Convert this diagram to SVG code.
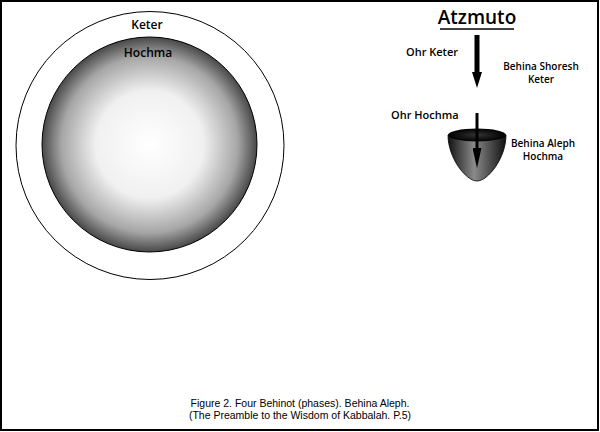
<svg xmlns="http://www.w3.org/2000/svg" width="600" height="432" viewBox="0 0 600 432">
<style>
text{font-family:"Open Sans","Liberation Sans",sans-serif;fill:#000}
.lbl{font-size:11px;font-weight:600}
.sm{font-size:10px;font-weight:600}
.cap{font-family:"Liberation Sans",sans-serif;font-size:10.5px}
</style>
<defs>
<radialGradient id="sphere" cx="0.5" cy="0.5" r="0.5">
<stop offset="0" stop-color="#ffffff"/>
<stop offset="0.5" stop-color="#f0f0f0"/>
<stop offset="0.82" stop-color="#a6a6a6"/>
<stop offset="1" stop-color="#484848"/>
</radialGradient>
<linearGradient id="bowl" x1="0" y1="0" x2="1" y2="0">
<stop offset="0" stop-color="#111"/>
<stop offset="0.45" stop-color="#8a8a8a"/>
<stop offset="1" stop-color="#111"/>
</linearGradient>
<radialGradient id="bowlTop" cx="0.5" cy="0.5" r="0.5">
<stop offset="0" stop-color="#333"/>
<stop offset="1" stop-color="#000"/>
</radialGradient>
<marker id="ah1" viewBox="0 0 16 10" refX="0" refY="5" markerWidth="16" markerHeight="10" markerUnits="userSpaceOnUse" orient="auto">
<path d="M0,0 L16,5 L0,10 Z" fill="#000"/>
</marker>
<marker id="ah2" viewBox="0 0 20 9" refX="0" refY="4.5" markerWidth="20" markerHeight="9" markerUnits="userSpaceOnUse" orient="auto">
<path d="M0,0 L20,4.5 L0,9 Z" fill="#000"/>
</marker>
</defs>
<rect x="1" y="1" width="597" height="429" fill="#fff" stroke="#000" stroke-width="2"/>
<g id="keter">
<circle cx="150" cy="145.5" r="134" fill="#fff" stroke="#000" stroke-width="1"/>
<text class="lbl" x="147" y="29" text-anchor="middle" style="font-size:12px">Keter</text>
</g>
<g id="hochma">
<circle cx="149.5" cy="144.5" r="107.5" fill="url(#sphere)" stroke="#000" stroke-width="1"/>
<text class="lbl" x="148" y="57" text-anchor="middle" style="font-size:12px">Hochma</text>
</g>
<g id="atzmuto">
<text x="477" y="24" text-anchor="middle" style="font-size:19px;font-weight:600">Atzmuto</text>
<line x1="440" y1="29" x2="514" y2="29" stroke="#000" stroke-width="1.5"/>
</g>
<g id="bowl-node">
<path d="M448,135 C448,158 466,181 477,181 C488,181 506,158 506,135 Z" fill="url(#bowl)" stroke="#000" stroke-width="0.8"/>
<ellipse cx="477" cy="135" rx="29" ry="6.5" fill="url(#bowlTop)"/>
</g>
<g id="labels">
<text class="lbl" x="406" y="56">Ohr Keter</text>
<text class="sm" x="541" y="70" text-anchor="middle">Behina Shoresh</text>
<text class="sm" x="541" y="83" text-anchor="middle">Keter</text>
<text class="lbl" x="391" y="119">Ohr Hochma</text>
<text class="sm" x="543" y="147" text-anchor="middle">Behina Aleph</text>
<text class="sm" x="543" y="160" text-anchor="middle">Hochma</text>
</g>
<g id="connectors">
<line x1="477" y1="35" x2="477" y2="72" stroke="#000" stroke-width="5" marker-end="url(#ah1)"/>
<line x1="477" y1="113" x2="477" y2="148" stroke="#000" stroke-width="3" marker-end="url(#ah2)"/>
</g>
<g id="caption">
<text class="cap" x="300" y="407" text-anchor="middle">Figure 2. Four Behinot (phases). Behina Aleph.</text>
<text class="cap" x="300" y="419" text-anchor="middle">(The Preamble to the Wisdom of Kabbalah. P.5)</text>
</g>
</svg>
